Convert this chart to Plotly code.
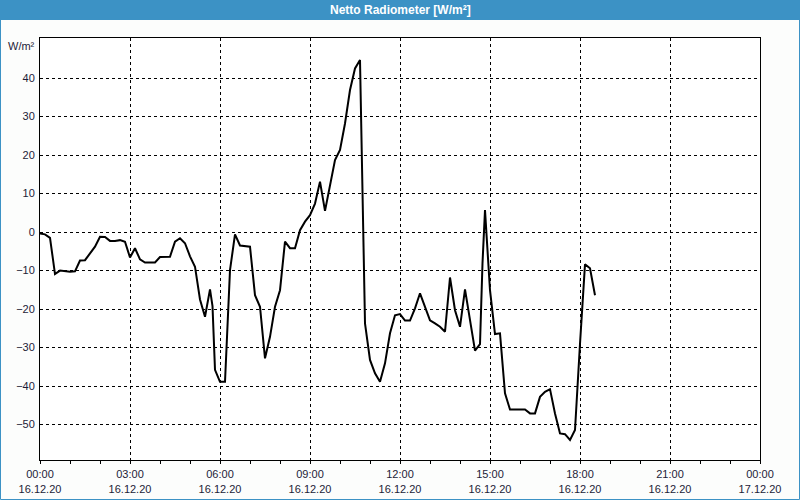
import plotly.graph_objects as go

# ---- data ----
times = ["00:00","00:10","00:20","00:30","00:40","00:50","01:00","01:10","01:20","01:30",
         "01:40","01:50","02:00","02:10","02:20","02:30","02:40","02:50","03:00","03:10",
         "03:20","03:30","03:40","03:50","04:00","04:10","04:20","04:30","04:40","04:50",
         "05:00","05:10","05:20","05:30","05:40","05:45","05:50","06:00","06:10","06:20","06:30",
         "06:40","06:50","07:00","07:10","07:20","07:30","07:40","07:50","08:00","08:10",
         "08:20","08:30","08:40","08:50","09:00","09:10","09:20","09:30","09:40","09:50",
         "10:00","10:10","10:20","10:30","10:40","10:50","11:00","11:10","11:20","11:30",
         "11:40","11:50","12:00","12:10","12:20","12:30","12:40","12:50","13:00","13:10",
         "13:20","13:30","13:40","13:50","14:00","14:10","14:20","14:30","14:40","14:45","14:50",
         "15:00","15:10","15:20","15:30","15:40","15:50","16:00","16:10","16:20","16:30",
         "16:40","16:50","17:00","17:10","17:20","17:30","17:40","17:50","18:00","18:10",
         "18:20","18:30"]
values = [-0.4,-0.6,-1.5,-10.9,-10.0,-10.1,-10.3,-10.2,-7.4,-7.3,
          -5.6,-3.8,-1.2,-1.3,-2.3,-2.3,-2.1,-2.5,-6.6,-4.2,
          -7.1,-7.9,-7.9,-7.9,-6.5,-6.4,-6.4,-2.5,-1.6,-2.9,
          -6.3,-9.0,-17.5,-22.0,-14.9,-19.2,-35.8,-38.9,-38.9,-9.9,-0.6,
          -3.5,-3.7,-3.8,-16.4,-19.4,-32.8,-27.2,-19.4,-15.1,-2.5,
          -4.2,-4.2,0.5,2.7,4.4,7.4,13.1,5.5,11.8,18.7,
          21.3,28.2,36.9,42.5,44.7,-23.7,-33.2,-36.7,-38.9,-34.1,
          -26.3,-21.6,-21.3,-23.0,-23.0,-19.8,-15.9,-19.4,-22.9,-23.7,
          -24.6,-25.9,-11.8,-20.3,-24.6,-14.9,-22.9,-30.8,-29.1,-8.1,5.7,
          -15.1,-26.5,-26.3,-41.9,-46.1,-46.1,-46.1,-46.1,-47.1,-47.1,
          -42.8,-41.5,-40.8,-47.1,-52.3,-52.5,-54.0,-51.4,-29.0,-8.4,
          -9.4,-16.4]

tick_times = ["00:00","03:00","06:00","09:00","12:00","15:00","18:00","21:00","00:00"]
tick_dates = ["16.12.20"] * 8 + ["17.12.20"]
y_ticks = [-50,-40,-30,-20,-10,0,10,20,30,40]

title = "Netto Radiometer [W/m²]"
unit = "W/m²"

# ---- figure ----
x = ["2020-12-16 " + t for t in times]
tick_vals = ["2020-12-16 %s" % t for t in tick_times[:-1]] + ["2020-12-17 00:00"]
tick_text = ["%s<br>%s" % (t, d) for t, d in zip(tick_times, tick_dates)]

W, H = 800, 500
L, R, T, B = 40, 40, 38, 40
pw, ph = W - L - R, H - T - B
blue = "#3c92c5"
txt = "#1c1c38"
font = "Liberation Sans, Arial, sans-serif"

fig = go.Figure(go.Scatter(x=x, y=values, mode="lines",
                           line=dict(color="black", width=2), hoverinfo="skip"))

fig.update_layout(
    width=W, height=H,
    margin=dict(l=L, r=R, t=T, b=B, autoexpand=False),
    paper_bgcolor="#fcfdfc", plot_bgcolor="white",
    showlegend=False,
    font=dict(family=font, size=11, color=txt),
)
fig.update_xaxes(
    type="date", range=["2020-12-16 00:00", "2020-12-17 00:00"],
    tickmode="array", tickvals=tick_vals, ticktext=tick_text,
    showgrid=True, gridcolor="black", gridwidth=1, griddash="3px,3px",
    showline=True, linecolor="black", linewidth=1, mirror=True,
    ticks="outside", ticklen=3, tickcolor="black", tickwidth=1,
    minor=dict(dtick=3600000, ticks="outside", ticklen=3, tickcolor="black", showgrid=False),
    zeroline=False, tickfont=dict(size=11, color=txt), automargin=False,
    ticklabelstandoff=1,
)
fig.update_yaxes(
    range=[-59.2, 50.4], tickmode="array", tickvals=y_ticks,
    showgrid=True, gridcolor="black", gridwidth=1, griddash="3px,3px",
    showline=True, linecolor="black", linewidth=1, mirror=True,
    ticks="", zeroline=False, ticklabelstandoff=2, automargin=False,
    tickfont=dict(size=11, color=txt),
)

# title bar
fig.add_shape(type="rect", xref="paper", yref="paper",
              x0=-L / pw, x1=1 + R / pw, y0=1 + (T - 20) / ph, y1=1 + T / ph,
              fillcolor=blue, line=dict(width=0), layer="below")
# outer blue frame
fig.add_shape(type="rect", xref="paper", yref="paper",
              x0=(-L + 0.5) / pw, x1=1 + (R - 0.5) / pw,
              y0=(-B + 0.5) / ph, y1=1 + (T - 0.5) / ph,
              fillcolor="rgba(0,0,0,0)", line=dict(color=blue, width=1))
fig.add_annotation(text="<b>%s</b>" % title, xref="paper", yref="paper",
                   x=0.5, y=1 + (T - 10) / ph, xanchor="center", yanchor="middle",
                   showarrow=False, font=dict(family=font, size=12, color="white"))
fig.add_annotation(text=unit, xref="paper", yref="paper",
                   x=-3 / pw, y=1 - 8 / ph, xanchor="right", yanchor="middle",
                   showarrow=False, font=dict(family=font, size=11, color=txt))

fig.write_html("out.html")
